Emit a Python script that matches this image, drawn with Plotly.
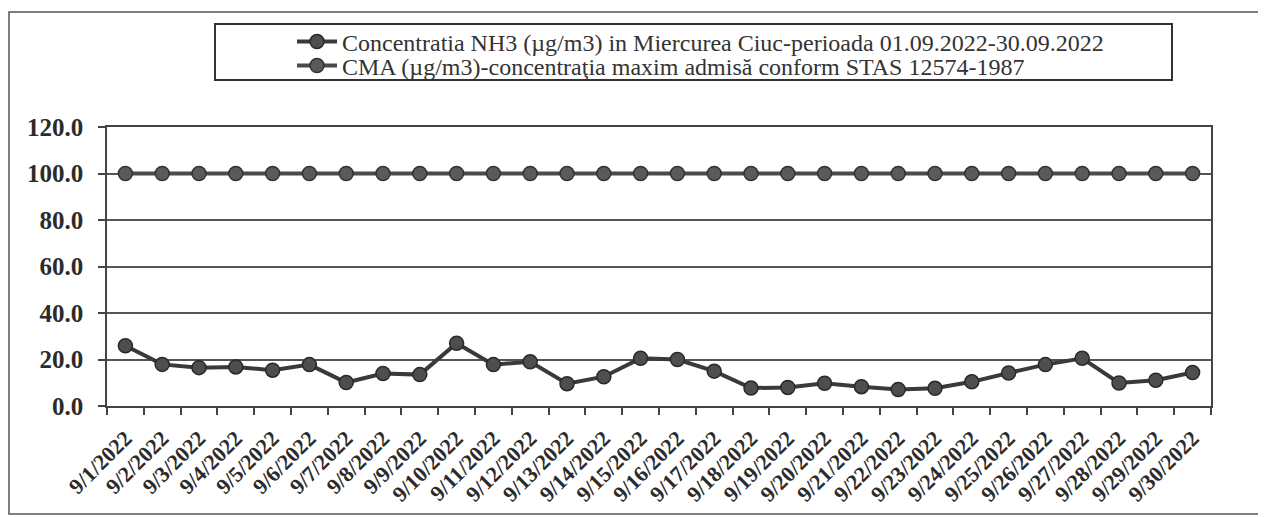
import plotly.graph_objects as go

# ---------------- data ----------------
dates = [f"9/{d}/2022" for d in range(1, 31)]
nh3 = [25.9, 17.9, 16.5, 16.8, 15.4, 17.8, 10.1, 14.0, 13.5, 27.0,
       17.8, 19.0, 9.6, 12.6, 20.5, 20.0, 15.0, 7.7, 8.0, 9.8,
       8.3, 7.1, 7.6, 10.4, 14.2, 17.8, 20.5, 9.9, 11.1, 14.4]
cma = [100.0] * 30
name_nh3 = "Concentratia NH3 (µg/m3) in Miercurea Ciuc-perioada 01.09.2022-30.09.2022"
name_cma = "CMA (µg/m3)-concentraţia maxim admisă conform STAS 12574-1987"
y_ticks = [0, 20, 40, 60, 80, 100, 120]

# ---------------- layout geometry (screen pixels) ----------------
OFF = 8                      # page body margin
W, H = 1266 - OFF, 517 - OFF
PL, PR, PT, PB = 107, 1211, 127, 406   # plot area on screen
ML, MT = PL - OFF, PT - OFF
MR, MB = W - (PR - OFF), H - (PB - OFF)
PW, PH = PR - PL, PB - PT


def px(x):
    return (x - PL) / PW


def py(y):
    return (PB - y) / PH


FONT = "Liberation Serif"
TXT = "#2b2b2b"

fig = go.Figure()
fig.add_trace(go.Scatter(
    x=dates, y=nh3, name=name_nh3, mode="lines+markers", legend="legend",
    line=dict(color="#3a3a3a", width=4),
    marker=dict(size=14, color="#4e4e4e", line=dict(color="#2a2a2a", width=1.5)),
))
fig.add_trace(go.Scatter(
    x=dates, y=cma, name=name_cma, mode="lines+markers", legend="legend2",
    line=dict(color="#4a4a4a", width=4),
    marker=dict(size=14, color="#5a5a5a", line=dict(color="#333333", width=1.5)),
))

legend_common = dict(
    bgcolor="rgba(0,0,0,0)", borderwidth=0,
    font=dict(family=FONT, size=24, color="#333333"),
    xanchor="left", yanchor="middle", itemwidth=40,
)

fig.update_layout(
    width=W, height=H,
    margin=dict(l=ML, r=MR, t=MT, b=MB, autoexpand=False),
    paper_bgcolor="white", plot_bgcolor="white",
    showlegend=True,
    legend=dict(x=px(292), y=py(42), **legend_common),
    legend2=dict(x=px(292), y=py(66), **legend_common),
    xaxis=dict(
        type="category", range=[-0.5, 29.5],
        tickson="boundaries", ticks="outside", ticklen=7, tickwidth=1.5, tickcolor="#444",
        showgrid=False, showline=True, linecolor="#444", linewidth=1.5, mirror=True,
        tickangle=-45, ticklabelstandoff=9,
        tickfont=dict(family=FONT, size=22, color=TXT, weight="bold"),
    ),
    yaxis=dict(
        range=[0, 120], tickvals=y_ticks, tickformat=".1f",
        ticks="outside", ticklen=7, tickwidth=1.5, tickcolor="#444",
        showgrid=True, gridcolor="#555", gridwidth=1.5,
        showline=True, linecolor="#444", linewidth=1.5, mirror=True,
        zeroline=False, ticklabelstandoff=10,
        tickfont=dict(family=FONT, size=25, color=TXT, weight="bold"),
    ),
    shapes=[
        # outer frame
        dict(type="rect", xref="paper", yref="paper",
             x0=px(9), x1=px(1259), y0=py(514), y1=py(12),
             line=dict(color="#555", width=1.5), layer="below"),
        # legend box
        dict(type="rect", xref="paper", yref="paper",
             x0=px(215), x1=px(1172), y0=py(80), y1=py(24),
             line=dict(color="#333", width=2), layer="below"),
    ],
)

fig.write_html("out.html")
